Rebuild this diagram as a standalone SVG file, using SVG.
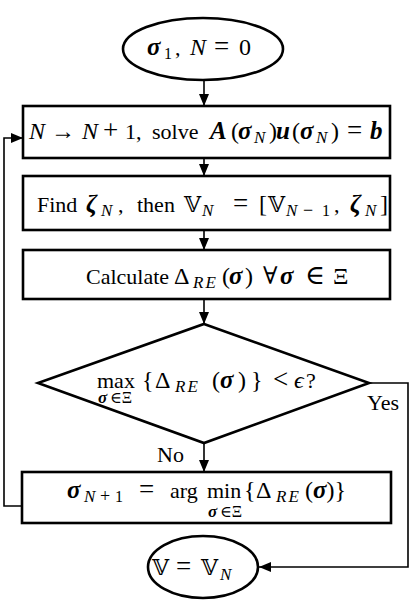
<svg xmlns="http://www.w3.org/2000/svg" width="419" height="616" viewBox="0 0 419 616">
<style>
.s{fill:#fff;stroke:#000;stroke-width:2.6}
.c{fill:none;stroke:#000;stroke-width:1.6}
text{font-family:"Liberation Serif","DejaVu Serif",serif;font-size:22px;fill:#000}
.i{font-style:italic;font-size:24px}
.b{font-style:italic;font-weight:bold;font-size:25px}
.m{font-size:24px}
.u{font-family:"DejaVu Serif","Liberation Serif",serif;font-size:22px}
.sm{font-size:16px}
.si{font-size:17px;font-style:italic}
.re{font-size:17px;font-style:italic;letter-spacing:2px}
.sb{font-size:17px;font-style:italic;font-weight:bold}
.op{font-size:27px}
.so{font-size:18px}
</style>
<defs>
<marker id="a" viewBox="0 0 12 10" refX="12" refY="5" markerWidth="12" markerHeight="10" markerUnits="userSpaceOnUse" orient="auto"><path d="M0,0L12,5L0,10z" fill="#000"/></marker>
</defs>
<g id="connectors">
<line class="c" x1="204" y1="80" x2="204" y2="106" marker-end="url(#a)"/>
<line class="c" x1="204" y1="158" x2="204" y2="176" marker-end="url(#a)"/>
<line class="c" x1="204" y1="230" x2="204" y2="250" marker-end="url(#a)"/>
<line class="c" x1="204" y1="299" x2="204" y2="324" marker-end="url(#a)"/>
<line class="c" x1="204" y1="443" x2="204" y2="472" marker-end="url(#a)"/>
<polyline class="c" points="369,383 408,383 408,567 259,567" marker-end="url(#a)"/>
<polyline class="c" points="22,506 4,506 4,138 23,138" marker-end="url(#a)"/>
<text x="367" y="410">Yes</text>
<text x="157" y="462">No</text>
</g>
<g id="start">
<ellipse class="s" cx="203" cy="49" rx="80" ry="31"/>
<text y="55"><tspan class="b" x="147">σ</tspan><tspan class="sm" x="164" y="59">1</tspan><tspan x="175" y="55">,</tspan><tspan class="i" x="190">N</tspan><tspan class="op" x="214">=</tspan><tspan class="m" x="239">0</tspan></text>
</g>
<g id="solve">
<rect class="s" x="23" y="106" width="367" height="52"/>
<text y="139"><tspan class="i" x="29">N</tspan><tspan class="m" x="51">→</tspan><tspan class="i" x="82">N</tspan><tspan class="op" x="103">+</tspan><tspan x="125">1,</tspan><tspan x="152">solve</tspan><tspan class="b" x="210">A</tspan><tspan class="m" x="231">(</tspan><tspan class="b" x="238">σ</tspan><tspan class="si" x="254" y="143">N</tspan><tspan class="m" x="269" y="139">)</tspan><tspan class="b" x="276">u</tspan><tspan class="m" x="292">(</tspan><tspan class="b" x="300">σ</tspan><tspan class="si" x="316" y="143">N</tspan><tspan class="m" x="331" y="139">)</tspan><tspan class="op" x="347">=</tspan><tspan class="b" x="370">b</tspan></text>
</g>
<g id="find">
<rect class="s" x="23" y="176" width="367" height="54"/>
<text y="212"><tspan x="37">Find</tspan><tspan class="b" x="86">ζ</tspan><tspan class="si" x="101" y="216">N</tspan><tspan x="118" y="212">,</tspan><tspan x="137">then</tspan><tspan class="u" x="184">𝕍</tspan><tspan class="si" x="202" y="216">N</tspan><tspan class="op" x="233" y="212">=</tspan><tspan class="m" x="259">[</tspan><tspan class="u" x="268">𝕍</tspan><tspan class="si" x="286" y="216">N</tspan><tspan class="so" x="303">−</tspan><tspan class="sm" x="322">1</tspan><tspan x="334" y="212">,</tspan><tspan class="b" x="350">ζ</tspan><tspan class="si" x="365" y="216">N</tspan><tspan class="m" x="380" y="212">]</tspan></text>
</g>
<g id="calc">
<rect class="s" x="23" y="250" width="367" height="49"/>
<text y="284"><tspan x="86">Calculate</tspan><tspan class="m" x="174">Δ</tspan><tspan class="re" x="193" y="288">RE</tspan><tspan class="m" x="222" y="284">(</tspan><tspan class="b" x="229">σ</tspan><tspan class="m" x="245">)</tspan><tspan class="m" x="263">∀</tspan><tspan class="b" x="280">σ</tspan><tspan class="op" x="305">∈</tspan><tspan class="m" x="333">Ξ</tspan></text>
</g>
<g id="decision">
<polygon class="s" points="204,324 369,383 204,443 38,383"/>
<text y="388"><tspan x="97">max</tspan><tspan class="m" x="142">{</tspan><tspan class="m" x="155">Δ</tspan><tspan class="re" x="175" y="392">RE</tspan><tspan class="m" x="212" y="388">(</tspan><tspan class="b" x="220">σ</tspan><tspan class="m" x="238">)</tspan><tspan class="m" x="251">}</tspan><tspan class="op" x="273">&lt;</tspan><tspan class="i" x="294">ϵ</tspan><tspan x="306">?</tspan></text>
<text y="403"><tspan class="sb" x="98">σ</tspan><tspan class="sm" x="110">∈Ξ</tspan></text>
</g>
<g id="update">
<rect class="s" x="22" y="472" width="369" height="51"/>
<text y="498"><tspan class="b" x="67">σ</tspan><tspan class="si" x="84" y="502">N</tspan><tspan class="so" x="100">+</tspan><tspan class="sm" x="115">1</tspan><tspan class="op" x="139" y="498">=</tspan><tspan x="170">arg</tspan><tspan x="207">min</tspan><tspan class="m" x="244">{</tspan><tspan class="m" x="256">Δ</tspan><tspan class="re" x="276" y="502">RE</tspan><tspan class="m" x="305" y="498">(</tspan><tspan class="b">σ</tspan><tspan class="m">)}</tspan></text>
<text y="517"><tspan class="sb" x="208">σ</tspan><tspan class="sm" x="220">∈Ξ</tspan></text>
</g>
<g id="end">
<ellipse class="s" cx="203" cy="567" rx="55" ry="31"/>
<text y="575"><tspan class="u" x="152">𝕍</tspan><tspan class="op" x="176">=</tspan><tspan class="u" x="201">𝕍</tspan><tspan class="si" x="220" y="580">N</tspan></text>
</g>
</svg>
